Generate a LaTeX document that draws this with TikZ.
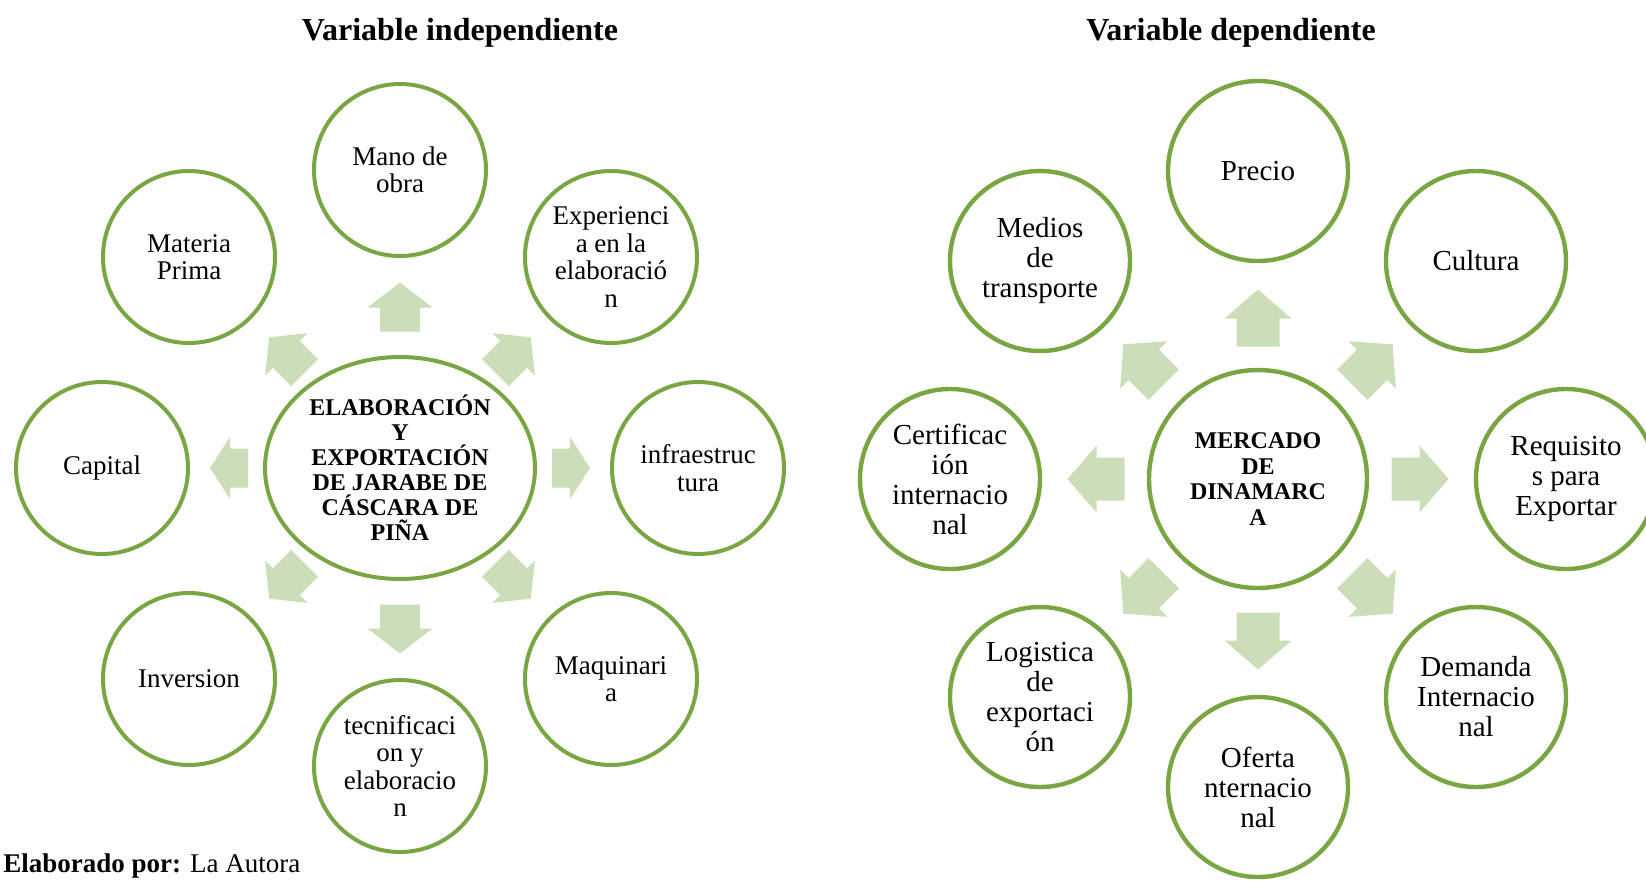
\documentclass[tikz,border=0pt]{standalone}
\usepackage{fontspec}
\setmainfont{Liberation Serif}
\usetikzlibrary{shapes.geometric}
\definecolor{ring}{RGB}{121,166,66}
\definecolor{arrowfill}{RGB}{204,221,185}
\tikzset{
  satL/.style={circle, draw=ring, line width=2pt, minimum size=86pt, inner sep=0pt, align=center, font=\fontsize{13.5}{13.7}\selectfont},
  satR/.style={circle, draw=ring, line width=2.2pt, minimum size=90pt, inner sep=0pt, align=center, font=\fontsize{14.5}{15}\selectfont},
  hubL/.style={ellipse, draw=ring, line width=2pt, minimum width=135pt, minimum height=111pt, inner sep=0pt, align=center, font=\bfseries\fontsize{12}{12.5}\selectfont},
  hubR/.style={circle, draw=ring, line width=2.2pt, minimum size=109pt, inner sep=0pt, align=center, font=\bfseries\fontsize{12}{12.8}\selectfont},
  ttl/.style={font=\bfseries\fontsize{16}{19}\selectfont},
}
% x y angle length width headlength shaftwidth
\newcommand\blockarr[7]{%
  \fill[arrowfill, shift={(#1,#2)}, rotate=#3]
    ({-#4/2},{-#7/2}) -- ({#4/2-#6},{-#7/2}) -- ({#4/2-#6},{-#5/2}) -- ({#4/2},0)
    -- ({#4/2-#6},{#5/2}) -- ({#4/2-#6},{#7/2}) -- ({-#4/2},{#7/2}) -- cycle;}
\begin{document}
\begin{tikzpicture}[x=0.5pt,y=-0.5pt]
\useasboundingbox (0,0) rectangle (1646,880);
% titles
\node[ttl] (t1) at (460,33) {Variable independiente};
\node[ttl] (t2) at (1231,33) {Variable dependiente};
% ---------- left diagram ----------
\node[hubL] (hubL) at (400,468) {ELABORACIÓN\\Y\\EXPORTACIÓN\\DE JARABE DE\\CÁSCARA DE\\PIÑA};
\node[satL] (mano) at (400,170) {Mano de\\obra};
\node[satL] (materia) at (189,257) {Materia\\Prima};
\node[satL] (exper) at (611,257) {Experienci\\a en la\\elaboració\\n};
\node[satL] (capital) at (102,468) {Capital};
\node[satL] (infra) at (698,468) {infraestruc\\tura};
\node[satL] (inver) at (189,679) {Inversion};
\node[satL] (maqui) at (611,679) {Maquinari\\a};
\node[satL] (tecni) at (400,766) {tecnificaci\\on y\\elaboracio\\n};
\blockarr{400}{307}{90}{49}{65}{25}{40}
\blockarr{400}{629}{270}{49}{65}{25}{40}
\blockarr{571}{468}{0}{38}{62}{20}{39}
\blockarr{229}{468}{180}{38}{62}{20}{39}
\blockarr{287}{355}{135}{50}{60}{24}{38}
\blockarr{513}{355}{45}{50}{60}{24}{38}
\blockarr{287}{581}{225}{50}{60}{24}{38}
\blockarr{513}{581}{315}{50}{60}{24}{38}
% ---------- right diagram ----------
\node[hubR] (hubR) at (1258,479) {MERCADO\\DE\\DINAMARC\\A};
\node[satR] (precio) at (1258,171) {Precio};
\node[satR] (medios) at (1040,261) {Medios\\de\\transporte};
\node[satR] (cultura) at (1476,261) {Cultura};
\node[satR] (cert) at (950,479) {Certificac\\ión\\internacio\\nal};
\node[satR] (requi) at (1566,479) {Requisito\\s para\\Exportar};
\node[satR] (logis) at (1040,697) {Logistica\\de\\exportaci\\ón};
\node[satR] (deman) at (1476,697) {Demanda\\Internacio\\nal};
\node[satR] (oferta) at (1258,787) {Oferta\\nternacio\\nal};
\blockarr{1258}{318}{90}{57}{67}{29}{43}
\blockarr{1258}{641}{270}{57}{67}{29}{43}
\blockarr{1096}{479}{180}{57}{67}{29}{43}
\blockarr{1420}{479}{0}{57}{67}{29}{43}
\blockarr{1143.5}{364.5}{135}{57}{67}{29}{43}
\blockarr{1372.5}{364.5}{45}{57}{67}{29}{43}
\blockarr{1143.5}{593.5}{225}{57}{67}{29}{43}
\blockarr{1372.5}{593.5}{315}{57}{67}{29}{43}
% footer
\node[anchor=base west, inner sep=0pt, font=\fontsize{13.5}{14}\selectfont] (foot) at (3,872) {\textbf{Elaborado por:} La Autora};
\end{tikzpicture}
\end{document}
